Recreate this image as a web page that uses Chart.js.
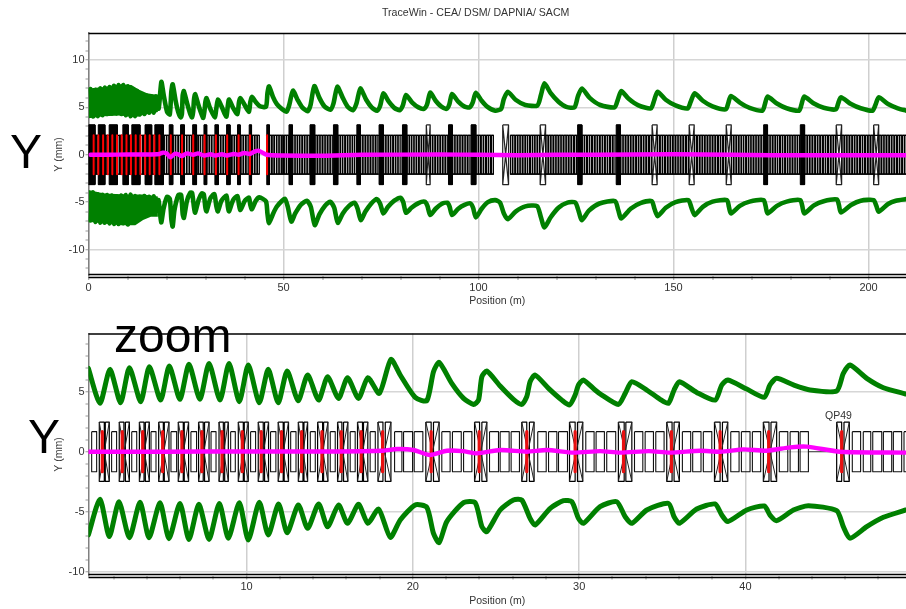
<!DOCTYPE html>
<html>
<head>
<meta charset="utf-8">
<title>TraceWin - CEA/ DSM/ DAPNIA/ SACM</title>
<script src="https://cdn.jsdelivr.net/npm/chart.js@4"></script>
<style>
html,body{margin:0;padding:0;background:#fff;width:906px;height:609px;overflow:hidden;font-family:"Liberation Sans",Arial,sans-serif}
canvas{position:absolute;left:0}
#c1{top:0}
#c2{top:310px}
.t{position:absolute;white-space:nowrap;color:#000}
.big{font-size:48px;line-height:48px}
</style>
</head>
<body>
<canvas id="c1" width="906" height="310"></canvas>
<canvas id="c2" width="906" height="299"></canvas>
<div class="t" style="left:382px;top:6px;font-size:10.6px;line-height:12px;color:#333">TraceWin - CEA/ DSM/ DAPNIA/ SACM</div>
<div class="t big" style="left:10px;top:128px">Y</div>
<div class="t big" style="left:28px;top:413px">Y</div>
<div class="t big" style="left:114px;top:312px">zoom</div>
<div class="t" style="left:825px;top:409px;font-size:10.5px;line-height:12px;color:#333">QP49</div>
<script>
// ---- beam envelope, first 50 m (position m, size mm)
const upperLow = [[0.48,6.94],[1.18,4.03],[1.78,6.86],[2.42,4.08],[2.95,7.0],[3.63,4.17],[4.15,7.08],[4.83,4.3],[5.35,7.14],[5.99,4.36],[6.53,7.28],[7.19,4.36],[7.74,7.36],[8.4,4.3],[8.94,7.36],[9.56,4.17],[10.1,7.22],[10.76,4.08],[11.3,6.86],[11.9,4.08],[12.44,6.72],[13.1,4.25],[13.67,6.39],[14.33,4.3],[14.87,6.25],[15.53,4.44],[16.07,6.17],[16.73,4.44],[17.29,6.17],[17.98,4.86],[18.68,7.69],[19.24,6.39],[20.14,4.53],[20.84,4.25],[21.24,6.67],[21.58,7.44],[22.34,5.69],[23.05,4.44],[23.65,3.94],[23.95,4.3],[24.15,6.25],[24.45,6.72],[25.25,5.47],[26.05,4.36],[26.55,3.94],[26.85,4.58],[27.05,5.83],[27.35,6.39],[28.16,5.28],[28.96,4.3],[29.42,3.89],[29.76,4.72],[29.96,5.56],[30.26,5.97],[30.96,5.14],[31.26,4.82],[32.36,3.94],[32.77,4.86],[33.17,5.83],[34.07,5.14],[34.87,4.36],[35.37,4.03],[35.71,5.14],[36.03,5.83],[37.07,4.94],[38.18,4.3],[38.58,5.56],[38.94,5.97],[40.08,5.22],[41.14,4.53],[41.48,5.56],[41.88,6.11],[42.89,5.56],[43.89,5.14],[45.49,5.06],[45.89,6.53],[46.29,7.22],[47.3,6.11],[48.3,5.33],[49.64,4.81]];
const lowerLow = [[0.48,-6.94],[1.18,-3.97],[1.74,-7.08],[2.32,-4.17],[2.95,-7.17],[3.59,-4.22],[4.13,-7.17],[4.79,-4.25],[5.33,-7.25],[5.99,-4.31],[6.53,-7.31],[7.13,-4.39],[7.74,-7.31],[8.36,-4.31],[8.9,-7.22],[9.56,-4.25],[10.1,-7.36],[10.76,-4.22],[11.3,-6.94],[11.92,-4.36],[12.44,-6.75],[13.11,-4.44],[13.67,-6.39],[14.33,-4.36],[14.87,-6.25],[15.53,-4.44],[16.07,-5.97],[16.73,-4.39],[17.29,-5.97],[17.94,-4.78],[18.64,-7.14],[19.24,-5.69],[20.14,-4.44],[20.84,-4.64],[21.24,-6.81],[21.58,-7.58],[22.04,-5.83],[23.05,-4.25],[23.75,-4.25],[24.15,-6.25],[24.45,-6.67],[25.25,-4.86],[26.05,-4.03],[26.55,-4.03],[27.05,-5.56],[27.35,-6.11],[28.26,-4.72],[29.06,-4.08],[29.56,-4.17],[29.96,-5.56],[30.26,-5.97],[31.26,-4.58],[32.26,-4.17],[32.77,-5.42],[33.17,-5.97],[34.07,-4.86],[35.37,-4.31],[35.71,-5.42],[36.03,-5.97],[37.07,-4.78],[38.18,-4.36],[38.58,-5.28],[38.94,-5.83],[40.08,-4.86],[41.14,-4.53],[41.48,-5.28],[41.88,-5.75],[42.89,-4.86],[43.79,-4.5],[45.49,-4.92],[45.89,-6.25],[46.29,-7.22],[47.3,-6.25],[48.3,-5.47],[49.64,-4.86]];
const centroidLow = [[0.48,0],[5,0],[10,0.02],[15,0.02],[18.2,0.08],[19.04,0.22],[20.04,0.14],[21.04,-0.28],[22.04,0.08],[23,0.05],[23.85,-0.14],[25.25,0.14],[26.85,0],[28.06,0.14],[29.66,-0.08],[31.26,0.05],[32.46,-0.08],[34.2,0.05],[35.47,-0.08],[37.27,0.08],[38.5,0],[39.88,0.19],[41.28,0.08],[42.69,0.36],[43.69,0.42],[45.69,0],[49.64,-0.08]];
// solid-looking part of the overview envelope, edges
const upperBandTop = [[0,7.0],[4,7.15],[8,7.45],[11,7.35],[13,6.85],[15,6.5],[17.8,6.3]];
const upperBandBottom = [[0,3.85],[4,4.05],[8,4.15],[12,3.95],[14,4.2],[17.8,4.5]];
const lowerBandTop = [[0,-3.73],[4,-4.08],[10,-4.2],[14,-4.2],[17.8,-4.4]];
const lowerBandBottom = [[0,-7.08],[4,-7.25],[8,-7.43],[12,-7.43],[14,-6.9],[16,-6.55],[17.8,-6.55]];
// ---- beam envelope, 50 m to the end of the linac
const upperHigh = [[50.8,4.55],[51.5,5.3],[52.4,6.76],[53.6,5.8],[54.8,5.0],[56.2,4.6],[56.9,5.2],[57.9,7.25],[59.2,6.0],[60.5,5.1],[62,4.75],[62.8,5.4],[63.8,7.18],[65.2,6.0],[66.4,5.1],[67.8,4.7],[68.7,5.4],[69.7,7.0],[71.2,5.8],[72.6,5.0],[74,4.65],[74.8,5.2],[75.6,6.48],[77,5.6],[78.4,4.95],[79.8,4.7],[80.6,5.2],[81.4,6.3],[83,5.5],[84.6,5.0],[86,4.85],[86.8,5.3],[87.6,6.55],[89,5.7],[90.4,5.1],[91.8,4.85],[92.5,5.3],[93.2,6.41],[94.8,5.6],[96.3,5.1],[97.7,5.0],[98.5,5.5],[99.3,6.55],[100.8,5.7],[102.3,5.05],[104.3,4.65],[105.8,4.85],[106.5,5.9],[107.5,6.65],[109.5,5.8],[112,5.25],[115.1,5.2],[116,6.3],[116.9,7.54],[118.5,6.5],[120.5,5.6],[122.5,5.05],[124.6,5],[125.5,6.2],[126.5,7],[128.5,6],[131.2,5.25],[134.9,5],[135.7,5.8],[136.6,6.73],[138.5,5.9],[141,5.2],[144.2,4.89],[145,5.7],[145.9,6.65],[148,5.8],[150.5,5.2],[153.6,4.89],[154.4,5.6],[155.4,6.48],[157.5,5.7],[160,5.1],[163.4,4.79],[164,5.4],[164.7,6.2],[167,5.5],[169.5,4.95],[172.8,4.65],[173.4,5.3],[174.1,6.13],[176.5,5.4],[179,4.9],[182.2,4.65],[182.8,5.3],[183.5,6.13],[186,5.4],[188.5,4.95],[191.6,4.79],[192.2,5.4],[192.9,6.06],[195.5,5.35],[198,4.9],[201,4.65],[201.8,5.3],[202.6,6.06],[205,5.35],[207.5,4.9],[209.7,4.65]];
const lowerHigh = [[50.4,-4.67],[51.1,-5.5],[52,-7.06],[53,-6.2],[54.4,-5.3],[56,-4.85],[57,-5.5],[58,-7.43],[59.2,-6.3],[60.6,-5.4],[62,-4.96],[63,-5.6],[63.9,-7.18],[65.2,-6.2],[66.8,-5.4],[68.2,-5.07],[69,-5.7],[69.8,-6.9],[71,-6.0],[72.4,-5.2],[73.9,-4.68],[74.8,-5.2],[75.6,-6.2],[76.8,-5.5],[78.4,-4.85],[80,-4.54],[80.7,-5],[81.4,-6.13],[82.8,-5.6],[84.6,-5.1],[86.2,-4.96],[86.9,-5.4],[87.6,-6.37],[89,-5.7],[90.5,-5.2],[92,-5.07],[92.6,-5.5],[93.2,-6.37],[94.8,-5.7],[96.4,-5.3],[97.9,-5.14],[98.6,-5.6],[99.3,-6.62],[100.8,-5.7],[102.4,-5.0],[104.3,-4.79],[105.5,-5.05],[106.5,-6.2],[107.5,-6.8],[109.5,-6],[112,-5.45],[115,-5.42],[116,-6.6],[116.9,-7.68],[118.5,-6.6],[120.5,-5.6],[122.8,-5.05],[124.8,-5.04],[125.7,-6],[126.5,-6.9],[128.3,-5.9],[131,-5.15],[135,-4.89],[135.8,-5.8],[136.6,-6.73],[139,-5.7],[141.5,-5.1],[144.4,-4.89],[145.1,-5.7],[145.9,-6.48],[148,-5.6],[150.5,-5],[153.8,-4.79],[154.6,-5.6],[155.4,-6.37],[157.5,-5.5],[160,-4.95],[163.7,-4.79],[164.2,-5.5],[164.7,-6.2],[167,-5.4],[169.5,-4.95],[173.1,-4.79],[173.6,-5.4],[174.1,-6.2],[176.5,-5.4],[179,-4.95],[182.5,-4.79],[183,-5.4],[183.5,-6.2],[186,-5.35],[188.5,-4.9],[191.9,-4.72],[192.4,-5.3],[192.9,-6.09],[195.5,-5.3],[198,-4.85],[201.3,-4.79],[202,-5.4],[202.6,-6.02],[205,-5.2],[207,-4.85],[209.7,-4.68]];
const centroidHigh = [[60,-0.1],[70,0],[90,0.02],[100,0],[110,-0.05],[120,0],[130,0],[150,0.05],[165,0],[175,-0.05],[200,-0.05],[209.7,-0.05]];

// ---- lattice seen in the zoom: quadrupole doublets [start,end] in m
const quadsZoom = [[1.14,1.44],[1.5,1.74],[2.34,2.62],[2.71,2.95],[3.55,3.83],[3.91,4.15],[4.71,4.99],[5.05,5.33],[5.89,6.19],[6.25,6.51],[7.11,7.39],[7.47,7.74],[8.34,8.6],[8.68,8.9],[9.5,9.8],[9.86,10.1],[10.7,11],[11.08,11.32],[11.9,12.2],[12.26,12.52],[13.11,13.39],[13.45,13.67],[14.27,14.57],[14.63,14.89],[15.47,15.73],[15.83,16.09],[16.67,16.97],[17.03,17.29],[17.9,18.2],[18.34,18.68],[20.78,21.1],[21.24,21.58],[23.71,24.01],[24.15,24.45],[26.55,26.85],[27.01,27.29],[29.42,29.76],[29.9,30.22],[32.36,32.71],[32.81,33.17],[35.27,35.59],[35.71,36.03],[38.14,38.48],[38.62,38.94],[41.08,41.42],[41.54,41.88],[45.49,45.79],[45.93,46.25]];
// cavity cells [start,end] in m
const cellsZoom = [[0.68,0.98],[1.88,2.18],[3.09,3.39],[4.25,4.55],[5.45,5.79],[6.65,6.99],[7.86,8.16],[9.04,9.32],[10.24,10.54],[11.44,11.76],[12.65,12.97],[13.83,14.13],[15.03,15.33],[16.23,16.53],[17.43,17.74],[18.9,19.34],[19.44,19.98],[20.08,20.6],[21.74,22.24],[22.38,22.91],[23.05,23.55],[24.61,25.15],[25.25,25.79],[25.91,26.41],[27.51,28.02],[28.16,28.66],[28.76,29.3],[30.4,30.9],[31.02,31.52],[31.66,32.2],[33.33,33.83],[33.97,34.47],[34.61,35.11],[36.21,36.71],[36.83,37.33],[37.47,37.98],[39.12,39.62],[39.76,40.28],[40.42,40.92],[42.04,42.55],[42.69,43.19],[43.29,43.79],[46.43,46.93],[47.09,47.54],[47.66,48.2],[48.3,48.8],[48.9,49.4],[49.54,49.9]];
const redMarks = [1.32,2.52,3.75,4.95,6.11,7.31,8.52,9.74,10.88,12.1,13.31,14.53,15.69,16.89,18.18,21.1,23.99,26.85,29.76,32.67,35.55,38.48,41.4,45.79];
const driftZoom = [[43.79,45.49]];
// ---- lattice seen in the overview
const quadsSolid = [[0,1.67],[2.5,4.2],[5.3,7.4],[8.8,10.2],[11.1,13.2],[14.5,16.2],[17,19.2],[20.7,21.6],[23.6,24.6],[26.7,27.7],[29.6,30.3],[32.4,33.3],[35.4,36.3],[38.2,38.9],[41.2,41.8],[45.7,46.4],[51.4,52.3],[56.8,58],[62.8,63.9],[68.8,69.7],[74.5,75.6],[80.5,81.6],[92.3,93.3],[98.1,99.3],[125.4,126.5],[135.3,136.4],[173.1,174.1],[182.5,183.6]];
const quadsOpen = [[86.6,87.6],[106.2,107.7],[115.8,117.2],[144.5,145.8],[154,155.3],[163.5,164.8],[191.7,193.1],[201.3,202.6]];
const bandSpans = [[0,43.79],[45.5,103.9],[108.1,209.7]];
const cellStartsHigh = [50.2,50.8,52.4,53,53.6,54.2,54.9,55.5,56.1,58.1,58.8,59.4,60.1,60.7,61.4,62,64,64.6,65.2,65.9,66.5,67.1,67.7,68.2,69.8,70.4,71.1,71.7,72.4,73,73.7,75.7,76.3,76.9,77.5,78.2,78.8,79.4,79.9,81.7,82.3,82.9,83.5,84.1,84.8,85.4,86,87.7,88.3,89,89.6,90.3,90.9,91.6,93.4,94,94.7,95.3,96,96.6,97.3,99.4,100,100.7,101.3,102,102.6,103.3,108.2,108.8,109.5,110.1,110.7,111.4,112,112.6,113.3,113.9,114.5,115.1,117.3,118,118.6,119.3,119.9,120.6,121.2,121.9,122.5,123.2,123.8,124.6,126.6,127.2,127.9,128.5,129.2,129.9,130.5,131.2,131.8,132.5,133.1,133.8,134.5,136.5,137.1,137.8,138.5,139.1,139.8,140.5,141.1,141.8,142.4,143.1,143.8,145.9,146.6,147.2,147.9,148.6,149.2,149.9,150.6,151.2,151.9,152.6,153.3,155.4,156.1,156.8,157.4,158.1,158.8,159.4,160.1,160.8,161.5,162.1,162.8,164.9,165.5,166.1,166.8,167.4,168,168.7,169.3,169.9,170.6,171.2,171.9,172.5,174.2,174.8,175.5,176.1,176.7,177.4,178,178.7,179.3,179.9,180.6,181.2,181.8,183.7,184.4,185,185.7,186.4,187,187.7,188.4,189,189.7,190.4,191,193.2,193.9,194.5,195.2,195.9,196.5,197.2,197.9,198.5,199.2,199.9,200.6,202.7,203.4,204,204.7,205.4,206,206.7,207.4,208,208.7,209.3];
const cellLength = 0.5;
// ---- axis settings
const topX = {min:0,max:209.6,minor:10,major:50};
const topY = {min:-12.8,max:12.85};
const zoomX = {min:0.49,max:49.66,minor:2,major:10};
const zoomY = {min:-10.32,max:9.85};
const overviewHalf = {quad:3.15,cell:2.05};
const zoomHalf = {quad:2.47,cell:1.67};

const pts = a => a.map(p => ({x:p[0],y:p[1]}));
const brk = x => ({x,y:null});
function rects(list,h){const o=[];for(const [a,b] of list){o.push({x:a,y:h},{x:b,y:h},{x:b,y:-h},{x:a,y:-h},{x:a,y:h},brk(a));}return o;}
function crosses(list,h){const o=[];for(const [a,b] of list){o.push({x:a,y:h},{x:b,y:-h},brk(b),{x:b,y:h},{x:a,y:-h},brk(a));}return o;}
function doubletCrosses(list,h){const o=[];for(let i=0;i+1<list.length;i+=2){o.push(...crosses([[list[i][0],list[i+1][1]]],h));}return o;}
function bars(list,h){const o=[];for(const x of list){o.push({x,y:h},{x,y:-h},brk(x));}return o;}
function slabs(list,h){const o=[];for(const [a,b] of list){o.push({x:a,y:h},{x:b,y:h},brk(b),{x:a,y:-h},{x:b,y:-h},brk(b));}return o;}

const line = (label,data,color,width,order,extra) => Object.assign({label,data,borderColor:color,backgroundColor:color,borderWidth:width,pointRadius:0,showLine:true,fill:false,tension:0,spanGaps:false,order,borderJoinStyle:'round',borderCapStyle:'butt'},extra||{});
const smooth = {tension:0.22,borderCapStyle:'round'};

const framePlugin = {id:'frame',afterDraw(c){const a=c.chartArea,x=c.ctx;x.save();x.strokeStyle='#000';x.lineWidth=1.3;x.beginPath();x.moveTo(a.left,a.top+0.5);x.lineTo(a.right,a.top+0.5);x.moveTo(a.left,Math.round(a.bottom)-1.5);x.lineTo(a.right,Math.round(a.bottom)-1.5);x.moveTo(a.left,Math.round(a.bottom)+1.5);x.lineTo(a.right,Math.round(a.bottom)+1.5);x.stroke();x.restore();}};

function makeChart(id,datasets,xa,ya,padTop,axisH,titlePad){
  const fontFamily='"Liberation Sans",Arial,sans-serif';
  return new Chart(document.getElementById(id),{
    type:'scatter',
    data:{datasets},
    plugins:[framePlugin],
    options:{
      responsive:false,animation:false,events:[],
      layout:{padding:{top:padTop,left:0,right:0,bottom:0}},
      plugins:{legend:{display:false},tooltip:{enabled:false},title:{display:false}},
      scales:{
        x:{type:'linear',min:xa.min,max:xa.max,
          afterFit(s){s.height=axisH;s.paddingLeft=0;s.paddingRight=0;},
          border:{display:false},
          grid:{color:c=>c.tick&&c.tick.value%xa.major===0?'#cfcfcf':'rgba(0,0,0,0)',lineWidth:c=>c.tick&&c.tick.value%xa.major===0?1.5:0,tickColor:'#999',tickWidth:1,tickLength:4},
          ticks:{stepSize:xa.minor,includeBounds:false,maxRotation:0,autoSkip:false,maxTicksLimit:300,padding:1,color:'#333',font:{family:fontFamily,size:11},callback:v=>v%xa.major===0?String(v):''},
          title:{display:true,text:'Position (m)',color:'#333',font:{family:fontFamily,size:10.5},padding:{top:0,bottom:titlePad}}
        },
        y:{type:'linear',min:ya.min,max:ya.max,
          afterFit(s){s.width=88.5;},
          border:{display:true,color:'#808080',width:1.5},
          grid:{color:c=>c.tick&&c.tick.value%5===0?'#d6d6d6':'rgba(0,0,0,0)',lineWidth:c=>c.tick&&c.tick.value%5===0?1.5:0,tickColor:'#999',tickWidth:1,tickLength:3},
          ticks:{stepSize:1,includeBounds:false,autoSkip:false,maxTicksLimit:300,padding:1,color:'#333',font:{family:fontFamily,size:11},callback:v=>v%5===0?String(v):''},
          title:{display:true,text:'Y (mm)',color:'#333',font:{family:fontFamily,size:10.5},padding:{top:53,bottom:0}}
        }
      }
    }
  });
}

// overview chart
const highCells = cellStartsHigh.map(s=>[s,s+cellLength]);
makeChart('c1',[
  line('Centroid',pts(centroidLow.concat(centroidHigh)),'#ff00ff',4.4,0,smooth),
  line('Envelope +',pts(upperLow.concat(upperHigh)),'#008000',4.6,1,smooth),
  line('Envelope -',pts(lowerLow.concat(lowerHigh)),'#008000',4.6,1,smooth),
  line('Gaps',bars(redMarks,overviewHalf.cell),'#ff0000',2,2),
  line('Cells',rects(cellsZoom.concat(highCells),overviewHalf.cell),'#000',1.3,3),
  line('Band',slabs(bandSpans,overviewHalf.cell),'#000',1.2,3),
  line('Quads',slabs(quadsSolid,overviewHalf.quad),'#000',1,4,{fill:'origin'}),
  line('Quad outlines',rects(quadsSolid,overviewHalf.quad),'#000',1,4),
  line('Open quads',rects(quadsOpen,overviewHalf.quad).concat(crosses(quadsOpen,overviewHalf.quad)),'#222',1.2,4),
  line('Upper band top',pts(upperBandTop),'#008000',0,1,{fill:10}),
  line('Upper band bottom',pts(upperBandBottom),'#008000',0,1),
  line('Lower band top',pts(lowerBandTop),'#008000',0,1,{fill:12}),
  line('Lower band bottom',pts(lowerBandBottom),'#008000',0,1)
],topX,topY,33,34,3);

// zoom chart
makeChart('c2',[
  line('Centroid',pts(centroidLow),'#ff00ff',4.4,0,smooth),
  line('Envelope +',pts(upperLow),'#008000',5,1,smooth),
  line('Envelope -',pts(lowerLow),'#008000',5,1,smooth),
  line('Gaps',bars(redMarks,zoomHalf.cell),'#e81010',3.2,2),
  line('Crosses',doubletCrosses(quadsZoom,zoomHalf.quad),'#222',1,3),
  line('Quads',rects(quadsZoom,zoomHalf.quad),'#000',1.2,3),
  line('Cells',rects(cellsZoom,zoomHalf.cell),'#111',1.1,3),
  line('Drift',pts(driftZoom[0].map(x=>[x,0])),'#444',1,3)
],zoomX,zoomY,23.5,33.5,2);
</script>
</body>
</html>
